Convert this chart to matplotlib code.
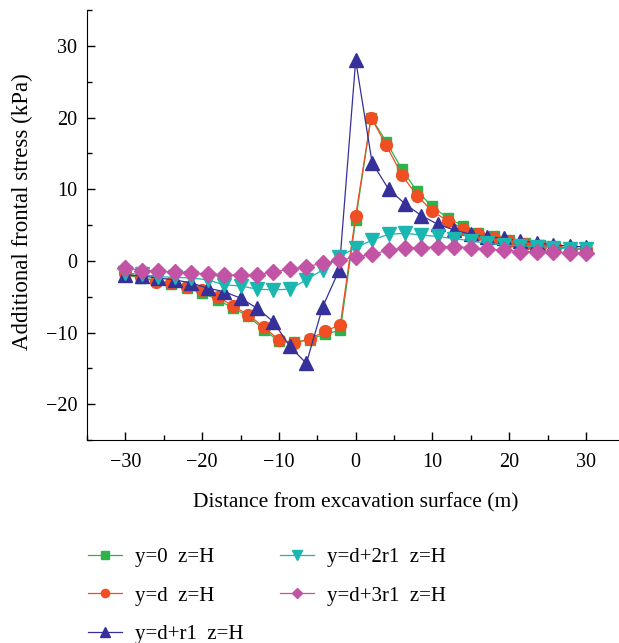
import matplotlib
matplotlib.use("Agg")
import matplotlib.pyplot as plt
from matplotlib.ticker import MultipleLocator

plt.rcParams['font.family'] = ['Liberation Serif', 'DejaVu Serif']

# distance positions (m)
x_step2 = [-30, -28, -26, -24, -22, -20, -18, -16, -14, -12, -10, -8, -6, -4, -2,
           0, 2, 4, 6, 8, 10, 12, 14, 16, 18, 20, 22, 24, 26, 28, 30]
x_fine = [-30.0, -27.86, -25.71, -23.57, -21.43, -19.29, -17.14, -15.0, -12.86,
          -10.71, -8.57, -6.43, -4.29, -2.14, 0.0, 2.14, 4.29, 6.43, 8.57, 10.71,
          12.86, 15.0, 17.14, 19.29, 21.43, 23.57, 25.71, 27.86, 30.0]

# additional frontal stress (kPa)
y0 = [-1.95, -2.4, -2.65, -3.2, -3.8, -4.5, -5.4, -6.6, -7.7, -9.6, -11.2, -11.35,
      -11.0, -10.2, -9.7, 5.7, 20.0, 16.6, 12.8, 9.7, 7.6, 5.95, 4.9, 3.95, 3.4,
      2.9, 2.55, 2.2, 2.0, 1.8, 1.6]
yd = [-1.7, -2.3, -2.9, -3.1, -3.6, -4.05, -5.0, -6.3, -7.5, -9.25, -11.0, -11.5,
      -10.9, -9.85, -8.9, 6.3, 20.0, 16.1, 12.0, 9.1, 6.9, 5.6, 4.5, 3.77, 3.17,
      2.8, 2.37, 2.1, 2.0, 1.77, 1.6]
yd_r1 = [-1.95, -2.1, -2.4, -2.65, -3.1, -3.8, -4.3, -5.2, -6.6, -8.5, -11.95,
         -14.3, -6.4, -1.25, 28.0, 13.7, 10.0, 7.95, 6.3, 5.1, 4.3, 3.7, 3.3, 3.17,
         2.8, 2.55, 2.2, 2.1, 1.9]
yd_2r1 = [-1.7, -1.9, -2.2, -2.3, -2.4, -2.65, -3.35, -3.5, -3.95, -4.05, -3.95,
          -2.65, -1.25, 0.6, 1.8, 2.9, 3.7, 3.84, 3.6, 3.4, 3.1, 2.8, 2.45, 2.2,
          2.1, 2.0, 1.85, 1.6, 1.7]
yd_3r1 = [-1.0, -1.35, -1.45, -1.55, -1.7, -1.8, -1.95, -2.0, -1.95, -1.5, -1.2,
          -0.8, -0.35, 0.1, 0.5, 0.93, 1.48, 1.85, 1.85, 1.94, 2.0, 1.85, 1.6, 1.5,
          1.3, 1.3, 1.3, 1.16, 1.16]

labels = ['y=0  z=H', 'y=d  z=H', 'y=d+r1  z=H', 'y=d+2r1  z=H', 'y=d+3r1  z=H']

fig = plt.figure(figsize=(6.19, 6.43), dpi=100)
ax = fig.add_axes([0.1406, 0.3157, 0.868, 0.6687])

ax.plot(x_step2, y0, '-s', color='#2db34a', ms=7.5, lw=0.9, label=labels[0])
ax.plot(x_step2, yd, '-o', color='#f04e23', ms=8.5, lw=0.9, label=labels[1])
ax.plot(x_fine, yd_r1, '-^', color='#35309a', ms=9.5, lw=0.9, label=labels[2])
ax.plot(x_fine, yd_2r1, '-v', color='#1ab7b0', ms=9.5, lw=0.9, label=labels[3])
ax.plot(x_fine, yd_3r1, '-D', color='#c253a5', ms=8, lw=0.9, label=labels[4])

ax.set_xlim(-35, 35)
ax.set_ylim(-25, 35)
ax.xaxis.set_major_locator(MultipleLocator(10))
ax.xaxis.set_minor_locator(MultipleLocator(5))
ax.yaxis.set_major_locator(MultipleLocator(10))
ax.yaxis.set_minor_locator(MultipleLocator(5))
ax.tick_params(which='both', direction='in', labelsize=14.5, width=1)
ax.tick_params(which='major', length=6, pad=7)
ax.tick_params(axis='x', which='major', pad=9.5)
ax.tick_params(which='minor', length=3.5)
ax.spines['top'].set_visible(False)
ax.spines['right'].set_visible(False)

ax.set_xlabel('Distance from excavation surface (m)', fontsize=15.5, labelpad=15)
ax.set_ylabel('Additional frontal stress (kPa)', fontsize=16.5)
ax.yaxis.set_label_coords(-0.1, 0.53)

fig.legend(loc='upper left', bbox_to_anchor=(0.112, 0.178), ncol=2, frameon=False,
           fontsize=15, handlelength=1.63, handletextpad=0.63, columnspacing=1.75,
           labelspacing=0.92, markerscale=0.7)

fig.savefig('out.png', dpi=100)
